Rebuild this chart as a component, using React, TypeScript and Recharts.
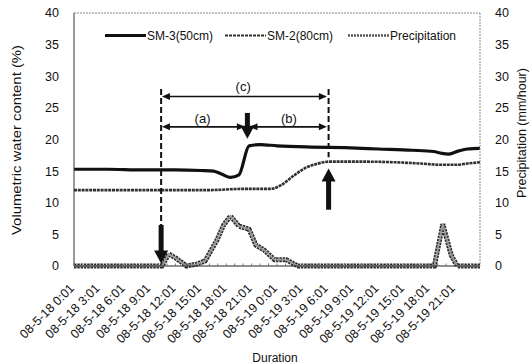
import { LineChart, Line, XAxis, YAxis, ReferenceLine, ReferenceDot } from "recharts";

// hours since 08-5-18 0:01
const sm3Hours = [0, 4, 8, 12, 15, 16.5, 17.5, 18.5, 19.5, 20.7, 22, 24, 28, 32, 36, 40, 42.5, 43.5, 44.3, 45.5, 46.5, 48];
const sm3Values = [15.3, 15.3, 15.2, 15.2, 15.1, 15.0, 14.5, 14.0, 14.4, 19.0, 19.2, 19.0, 18.8, 18.7, 18.5, 18.3, 18.1, 17.8, 17.7, 18.2, 18.5, 18.6];

const sm2Hours = [0, 8, 16, 20, 23.3, 24.5, 26, 27.5, 28.6, 30.2, 34, 38, 41, 43.5, 45.2, 46.5, 48];
const sm2Values = [12.0, 12.0, 12.0, 12.2, 12.2, 12.8, 14.3, 15.6, 16.1, 16.5, 16.5, 16.4, 16.2, 16.0, 16.0, 16.2, 16.4];

const rainHours = [0, 10.4, 11.2, 12.1, 13.3, 14.5, 15.5, 16.9, 17.7, 18.5, 19.5, 20.7, 21.5, 22.5, 23.7, 25.1, 25.9, 26.5, 42.6, 43.6, 44.6, 45.3, 48];
const rainValues = [0, 0, 1.9, 1.2, 0, 0.3, 0.8, 4.1, 6.5, 7.9, 6.3, 5.8, 3.3, 2.5, 1.0, 1.0, 0.4, 0, 0, 6.6, 1.7, 0, 0];

const timeLabels = [
  "08-5-18 0:01", "08-5-18 3:01", "08-5-18 6:01", "08-5-18 9:01",
  "08-5-18 12:01", "08-5-18 15:01", "08-5-18 18:01", "08-5-18 21:01",
  "08-5-19 0:01", "08-5-19 3:01", "08-5-19 6:01", "08-5-19 9:01",
  "08-5-19 12:01", "08-5-19 15:01", "08-5-19 18:01", "08-5-19 21:01",
];
const yTicks = [0, 5, 10, 15, 20, 25, 30, 35, 40];

const FONT = "'Liberation Sans', Arial, sans-serif";

const toPoints = (hours: number[], values: number[]) => hours.map((h, i) => ({ h, v: values[i] }));
const sm3Data = toPoints(sm3Hours, sm3Values);
const sm2Data = toPoints(sm2Hours, sm2Values);
const rainData = toPoints(rainHours, rainValues);

const hourTicks = Array.from({ length: 48 }, (_, i) => i);

// annotation positions (hours, %)
const startH = 10.3, peakH = 20.5, endH = 30.1;

const TimeTick = ({ x, y, payload }: any) => {
  const h = payload.value;
  const label = h % 3 === 0 ? timeLabels[h / 3] : null;
  const ax = x + 1, ay = y + 23;
  return (
    <g>
      <line x1={x} y1={y} x2={x} y2={y - 2.5} stroke="#777" />
      {label && (
        <text x={ax} y={ay} transform={`rotate(-45 ${ax} ${ay})`}
          textAnchor="end" fontSize={12.5} fontFamily={FONT} fill="#111">
          {label}
        </text>
      )}
    </g>
  );
};

const dashShape = (p: any) => (
  <line x1={p.x1} y1={p.y1} x2={p.x2} y2={p.y2} stroke="#111" strokeWidth={2} strokeDasharray="6 3" />
);

const head = (x: number, y: number, dx: number, dy: number, len: number, half: number) => {
  // triangle with tip at (x,y), pointing along (dx,dy)
  const bx = x - dx * len, by = y - dy * len;
  const px = -dy * half, py = dx * half;
  return `${x},${y} ${bx + px},${by + py} ${bx - px},${by - py}`;
};

const doubleShape = (p: any) => {
  const len = Math.hypot(p.x2 - p.x1, p.y2 - p.y1) || 1;
  const dx = (p.x2 - p.x1) / len, dy = (p.y2 - p.y1) / len;
  return (
    <g>
      <line x1={p.x1 + dx * 6} y1={p.y1 + dy * 6} x2={p.x2 - dx * 6} y2={p.y2 - dy * 6} stroke="#111" strokeWidth={1.6} />
      <polygon points={head(p.x2, p.y2, dx, dy, 8, 3.5)} fill="#111" />
      <polygon points={head(p.x1, p.y1, -dx, -dy, 8, 3.5)} fill="#111" />
    </g>
  );
};

const fatShape = (p: any) => {
  const len = Math.hypot(p.x2 - p.x1, p.y2 - p.y1) || 1;
  const dx = (p.x2 - p.x1) / len, dy = (p.y2 - p.y1) / len;
  return (
    <g>
      <line x1={p.x1} y1={p.y1} x2={p.x2 - dx * 10} y2={p.y2 - dy * 10} stroke="#111" strokeWidth={5} />
      <polygon points={head(p.x2, p.y2, dx, dy, 13, 7)} fill="#111" />
    </g>
  );
};

const textShape = (txt: string) => (p: any) => (
  <text x={p.cx} y={p.cy} textAnchor="middle" dominantBaseline="central" fontSize={13} fontFamily={FONT} fill="#111">{txt}</text>
);

const legendItems = [
  { name: "SM-3(50cm)", x: 105, stroke: "#111", width: 3.2, dash: undefined as string | undefined },
  { name: "SM-2(80cm)", x: 225, stroke: "#333", width: 2.2, dash: "3 1" },
  { name: "Precipitation", x: 348, stroke: "#555", width: 2.6, dash: "2 1" },
];

export default function App() {
  return (
    <div style={{ position: "absolute", left: 0, top: 0, width: 530, height: 364, background: "#fff", fontFamily: FONT }}>
      <LineChart width={530} height={364} margin={{ top: 13, right: 0, bottom: 0, left: 0 }}>
        <XAxis xAxisId="t" type="number" dataKey="h" domain={[0, 48]} ticks={hourTicks} interval={0}
          tick={<TimeTick />} tickSize={0} tickMargin={0} height={98}
          axisLine={{ stroke: "#222", strokeWidth: 1.2 }} />
        <YAxis yAxisId="left" domain={[0, 40]} ticks={yTicks} width={74} tickLine={false} tickMargin={9}
          tick={{ fontSize: 12.5, fill: "#111", fontFamily: FONT }} axisLine={{ stroke: "#333" }} />
        <YAxis yAxisId="right" orientation="right" domain={[0, 40]} ticks={yTicks} width={50} tickLine={false} tickMargin={9}
          tick={{ fontSize: 12.5, fill: "#111", fontFamily: FONT }} axisLine={{ stroke: "#888", strokeDasharray: "2 1" }} />

        <ReferenceLine xAxisId="t" yAxisId="left" y={40} stroke="#888" strokeDasharray="2 1" />

        <Line xAxisId="t" yAxisId="right" data={rainData} dataKey="v" type="linear" stroke="#2e2e2e" strokeWidth={5}
          strokeDasharray="2.5 0.8" dot={false} isAnimationActive={false} />
        <Line xAxisId="t" yAxisId="right" data={rainData} dataKey="v" type="linear" stroke="#9a9a9a" strokeWidth={1.8}
          dot={false} isAnimationActive={false} legendType="none" />
        <Line xAxisId="t" yAxisId="left" data={sm2Data} dataKey="v" type="monotone" stroke="#303030" strokeWidth={2.6}
          strokeDasharray="3 0.8" dot={false} isAnimationActive={false} />
        <Line xAxisId="t" yAxisId="left" data={sm3Data} dataKey="v" type="monotone" stroke="#111" strokeWidth={3.2}
          dot={false} isAnimationActive={false} />

        {/* dashed event markers */}
        <ReferenceLine xAxisId="t" yAxisId="left" segment={[{ x: startH, y: 28 }, { x: startH, y: 6.5 }]} shape={dashShape} />
        <ReferenceLine xAxisId="t" yAxisId="left" segment={[{ x: endH, y: 28 }, { x: endH, y: 17.2 }]} shape={dashShape} />
        {/* interval arrows */}
        <ReferenceLine xAxisId="t" yAxisId="left" segment={[{ x: 10.4, y: 26.8 }, { x: 29.9, y: 26.8 }]} shape={doubleShape} />
        <ReferenceLine xAxisId="t" yAxisId="left" segment={[{ x: 10.4, y: 22 }, { x: 20.2, y: 22 }]} shape={doubleShape} />
        <ReferenceLine xAxisId="t" yAxisId="left" segment={[{ x: 20.75, y: 22 }, { x: 29.9, y: 22 }]} shape={doubleShape} />
        {/* fat arrows */}
        <ReferenceLine xAxisId="t" yAxisId="left" segment={[{ x: startH, y: 6.5 }, { x: startH, y: 0.4 }]} shape={fatShape} />
        <ReferenceLine xAxisId="t" yAxisId="left" segment={[{ x: peakH, y: 24.2 }, { x: peakH, y: 20.1 }]} shape={fatShape} />
        <ReferenceLine xAxisId="t" yAxisId="left" segment={[{ x: endH, y: 8.9 }, { x: endH, y: 15.4 }]} shape={fatShape} />

        <ReferenceDot xAxisId="t" yAxisId="left" x={20.0} y={28.4} r={0} shape={textShape("(c)")} />
        <ReferenceDot xAxisId="t" yAxisId="left" x={15.2} y={23.3} r={0} shape={textShape("(a)")} />
        <ReferenceDot xAxisId="t" yAxisId="left" x={25.4} y={23.3} r={0} shape={textShape("(b)")} />

        <text x={17} y={140} transform="rotate(-90 17 140)" textAnchor="middle" dominantBaseline="central"
          fontSize={12.5} fontFamily={FONT} fill="#111" textLength={190} lengthAdjust="spacingAndGlyphs">
          Volumetric water content (%)
        </text>
        <text x={522} y={133} transform="rotate(-90 522 133)" textAnchor="middle" dominantBaseline="central"
          fontSize={12.5} fontFamily={FONT} fill="#111">
          Precipitation (mm/hour)
        </text>
        <text x={275} y={358} textAnchor="middle" dominantBaseline="central" fontSize={12} fontFamily={FONT} fill="#111">
          Duration
        </text>
      </LineChart>

      <svg width={530} height={60} style={{ position: "absolute", left: 0, top: 0, pointerEvents: "none" }}>
        {legendItems.map((it) => (
          <g key={it.name}>
            <line x1={it.x} y1={35.5} x2={it.x + 41} y2={35.5} stroke={it.stroke} strokeWidth={it.width} strokeDasharray={it.dash} />
            <text x={it.x + 42} y={35.5} dominantBaseline="central" fontSize={12} fontFamily={FONT} fill="#111">{it.name}</text>
          </g>
        ))}
      </svg>
    </div>
  );
}
